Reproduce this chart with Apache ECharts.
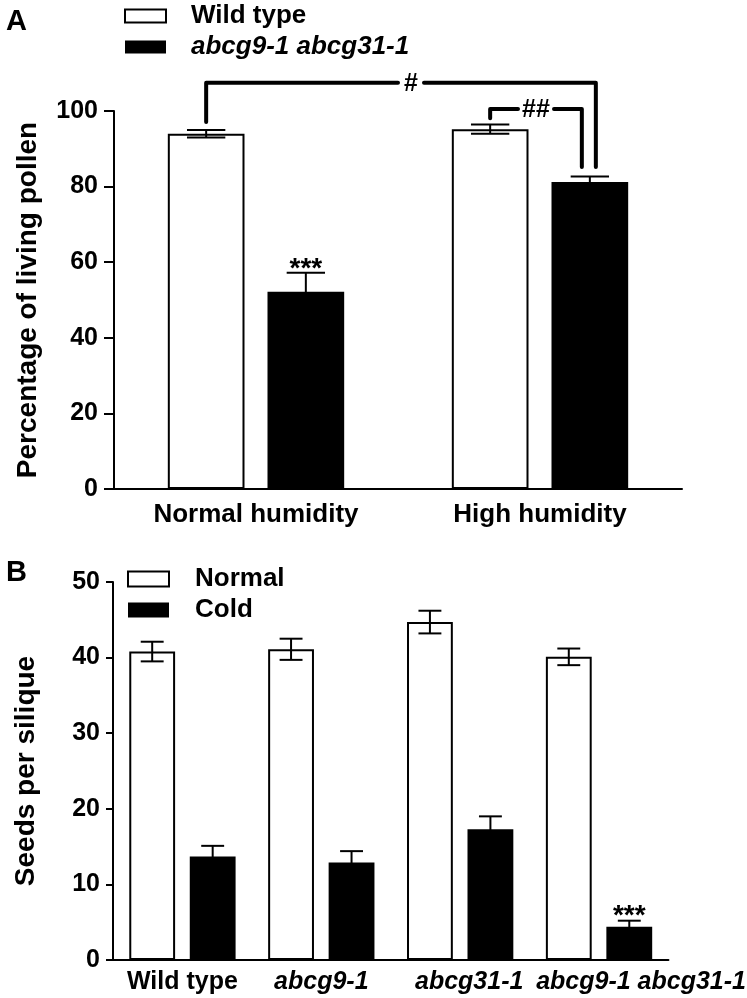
<!DOCTYPE html>
<html>
<head>
<meta charset="utf-8">
<script src="https://cdn.jsdelivr.net/npm/echarts@6/dist/echarts.min.js"></script>
<style>
html,body{margin:0;padding:0;background:#fff;}
#chart{width:747px;height:998px;}
</style>
</head>
<body>
<div id="chart"></div>
<script>
// ---------- Panel A data ----------
var catsA = ['Normal humidity', 'High humidity'];
var wildA = [94.0, 95.2];
var wildErrA = [1.0, 1.2];
var mutA = [52.2, 81.2];
var mutErrA = [5.0, 1.5];
var mutSigA = ['***', ''];
var yTicksA = [0, 20, 40, 60, 80, 100];

// ---------- Panel B data ----------
var catsB = ['Wild type', 'abcg9-1', 'abcg31-1', 'abcg9-1 abcg31-1'];
var normalB = [40.8, 41.1, 44.7, 40.1];
var normalErrB = [1.3, 1.4, 1.5, 1.1];
var coldB = [13.7, 12.9, 17.3, 4.4];
var coldErrB = [1.4, 1.5, 1.7, 0.8];
var coldSigB = ['', '', '', '***'];
var yTicksB = [0, 10, 20, 30, 40, 50];

var FONT = '"Liberation Sans", Arial, sans-serif';
var chart = echarts.init(document.getElementById('chart'), null, {renderer: 'canvas'});

var BAR_A = 0.27, GAP_A = 0.30;
var BAR_B = 0.33, GAP_B = 0.32;

function errData(vals, errs) {
  return vals.map(function (v, i) { return [i, v, errs[i]]; });
}

function errRender(sign, barPct, gapPct, sigs, starSize) {
  return function (params, api) {
    var ci = api.value(0), v = api.value(1), e = api.value(2);
    var band = api.size([1, 0])[0];
    var bw = band * barPct;
    var off = sign * bw * (1 + gapPct) / 2;
    var x = api.coord([ci, v])[0] + off;
    var yt = api.coord([ci, v + e])[1];
    var yb = api.coord([ci, v - e])[1];
    var cw = bw * 0.25;
    var st = {stroke: '#000', lineWidth: 2};
    var ch = [
      {type: 'line', shape: {x1: x, y1: yt, x2: x, y2: yb}, style: st},
      {type: 'line', shape: {x1: x - cw, y1: yt, x2: x + cw, y2: yt}, style: st},
      {type: 'line', shape: {x1: x - cw, y1: yb, x2: x + cw, y2: yb}, style: st}
    ];
    var s = sigs ? sigs[params.dataIndex] : '';
    if (s) {
      ch.push({type: 'text', style: {text: s, x: x, y: yt + 10, align: 'center', verticalAlign: 'bottom',
        font: 'bold ' + starSize + 'px ' + FONT, fill: '#000'}});
    }
    return {type: 'group', children: ch};
  };
}

// significance brackets in panel A: [fromCat, fromSide(-1 wt / +1 mut), leftDropTo, toCat, toSide, rightDropTo, topValue, label, rightNudgePx]
var brackets = [
  [0, -1, 97.1, 1, 1, 85.2, 107.5, '#', 6],
  [1, -1, 98.1, 1, 1, 85.2, 100.5, '##', -8]
];

function bracketRender(params, api) {
  var b = brackets[params.dataIndex];
  var band = api.size([1, 0])[0];
  var bw = band * BAR_A;
  var off = bw * (1 + GAP_A) / 2;
  var xl = api.coord([b[0], 0])[0] + b[1] * off;
  var xr = api.coord([b[3], 0])[0] + b[4] * off + b[8];
  var yl = api.coord([b[0], b[2]])[1];
  var yr = api.coord([b[3], b[5]])[1];
  var yt = api.coord([b[0], b[6]])[1];
  var xm = (xl + xr) / 2 + (b[7] === '#' ? 10 : 0);
  var half = b[7] === '#' ? 13 : 18;
  var st = {stroke: '#000', lineWidth: 4, lineCap: 'round', lineJoin: 'round', fill: null};
  return {type: 'group', children: [
    {type: 'polyline', shape: {points: [[xl, yl], [xl, yt], [xm - half, yt]]}, style: st},
    {type: 'polyline', shape: {points: [[xm + half, yt], [xr, yt], [xr, yr]]}, style: st},
    {type: 'text', style: {text: b[7], x: xm, y: yt + 1, align: 'center', verticalAlign: 'middle',
      font: 'bold 25px ' + FONT, fill: '#000'}}
  ]};
}

var axisLineStyle = {color: '#000', width: 2};

var option = {
  backgroundColor: '#fff',
  animation: false,
  title: [
    {text: 'A', left: 1, top: 2, textStyle: {fontFamily: FONT, fontWeight: 'bold', fontSize: 29, color: '#000'}},
    {text: 'B', left: 1, top: 553, textStyle: {fontFamily: FONT, fontWeight: 'bold', fontSize: 29, color: '#000'}}
  ],
  legend: [
    {
      orient: 'vertical', left: 119, top: -2, itemWidth: 41, itemHeight: 13, itemGap: 5,
      selectedMode: false,
      data: [
        {name: 'Wild type', icon: 'rect', itemStyle: {color: '#fff', borderColor: '#000', borderWidth: 2}},
        {name: 'abcg9-1 abcg31-1', icon: 'rect', itemStyle: {color: '#000', borderColor: '#000', borderWidth: 0}}
      ],
      formatter: function (n) { return n === 'Wild type' ? '{n|' + n + '}' : '{i|' + n + '}'; },
      textStyle: {
        padding: [0, 0, 0, 20],
        rich: {
          n: {fontFamily: FONT, fontWeight: 'bold', fontSize: 26, color: '#000'},
          i: {fontFamily: FONT, fontWeight: 'bold', fontStyle: 'italic', fontSize: 26, color: '#000'}
        }
      }
    },
    {
      orient: 'vertical', left: 122, top: 561, itemWidth: 41, itemHeight: 15, itemGap: 5,
      selectedMode: false,
      data: [
        {name: 'Normal', icon: 'rect', itemStyle: {color: '#fff', borderColor: '#000', borderWidth: 2}},
        {name: 'Cold', icon: 'rect', itemStyle: {color: '#000', borderColor: '#000', borderWidth: 0}}
      ],
      textStyle: {padding: [0, 0, 0, 21], fontFamily: FONT, fontWeight: 'bold', fontSize: 26, color: '#000'}
    }
  ],
  grid: [
    {left: 114, right: 65, top: 111, bottom: 509},
    {left: 113, right: 63, top: 582, bottom: 38}
  ],
  xAxis: [
    {
      type: 'category', gridIndex: 0, data: catsA,
      axisLine: {lineStyle: axisLineStyle}, axisTick: {show: false},
      axisLabel: {margin: 13, color: '#000', fontFamily: FONT, fontWeight: 'bold', fontSize: 26}
    },
    {
      type: 'category', gridIndex: 1, data: catsB,
      axisLine: {lineStyle: axisLineStyle}, axisTick: {show: false},
      axisLabel: {
        margin: 10, interval: 0,
        formatter: function (v, i) { return '{c' + i + '|' + v + '}'; },
        rich: {
          c0: {fontFamily: FONT, fontWeight: 'bold', fontSize: 25, color: '#000'},
          c1: {fontFamily: FONT, fontWeight: 'bold', fontStyle: 'italic', fontSize: 25, color: '#000'},
          c2: {fontFamily: FONT, fontWeight: 'bold', fontStyle: 'italic', fontSize: 25, color: '#000', padding: [0, 0, 0, 18]},
          c3: {fontFamily: FONT, fontWeight: 'bold', fontStyle: 'italic', fontSize: 25, color: '#000', padding: [0, 0, 0, 84]}
        }
      }
    }
  ],
  yAxis: [
    {
      type: 'value', gridIndex: 0, min: yTicksA[0], max: yTicksA[yTicksA.length - 1], interval: 20,
      name: 'Percentage of living pollen', nameLocation: 'middle', nameGap: 72, nameRotate: 90,
      nameTextStyle: {fontFamily: FONT, fontWeight: 'bold', fontSize: 28, color: '#000'},
      axisLine: {show: true, lineStyle: axisLineStyle},
      axisTick: {show: true, length: 10, lineStyle: axisLineStyle},
      splitLine: {show: false},
      axisLabel: {margin: 16, color: '#000', fontFamily: FONT, fontWeight: 'bold', fontSize: 25}
    },
    {
      type: 'value', gridIndex: 1, min: yTicksB[0], max: yTicksB[yTicksB.length - 1], interval: 10,
      name: 'Seeds per silique', nameLocation: 'middle', nameGap: 73, nameRotate: 90,
      nameTextStyle: {fontFamily: FONT, fontWeight: 'bold', fontSize: 28, color: '#000'},
      axisLine: {show: true, lineStyle: axisLineStyle},
      axisTick: {show: true, length: 7, lineStyle: axisLineStyle},
      splitLine: {show: false},
      axisLabel: {margin: 13, color: '#000', fontFamily: FONT, fontWeight: 'bold', fontSize: 25}
    }
  ],
  series: [
    {name: 'Wild type', type: 'bar', xAxisIndex: 0, yAxisIndex: 0, data: wildA,
      barWidth: (BAR_A * 100) + '%', barGap: (GAP_A * 100) + '%',
      itemStyle: {color: '#fff', borderColor: '#000', borderWidth: 2}},
    {name: 'abcg9-1 abcg31-1', type: 'bar', xAxisIndex: 0, yAxisIndex: 0, data: mutA,
      barWidth: (BAR_A * 100) + '%', barGap: (GAP_A * 100) + '%',
      itemStyle: {color: '#000', borderColor: '#000', borderWidth: 0}},
    {type: 'custom', xAxisIndex: 0, yAxisIndex: 0, z: 5, clip: false, data: errData(wildA, wildErrA),
      renderItem: errRender(-1, BAR_A, GAP_A, null, 28)},
    {type: 'custom', xAxisIndex: 0, yAxisIndex: 0, z: 5, clip: false, data: errData(mutA, mutErrA),
      renderItem: errRender(1, BAR_A, GAP_A, mutSigA, 28)},
    {type: 'custom', xAxisIndex: 0, yAxisIndex: 0, z: 6, clip: false, data: brackets.map(function (b, i) { return [i, b[6]]; }),
      renderItem: bracketRender},

    {name: 'Normal', type: 'bar', xAxisIndex: 1, yAxisIndex: 1, data: normalB,
      barWidth: (BAR_B * 100) + '%', barGap: (GAP_B * 100) + '%',
      itemStyle: {color: '#fff', borderColor: '#000', borderWidth: 2}},
    {name: 'Cold', type: 'bar', xAxisIndex: 1, yAxisIndex: 1, data: coldB,
      barWidth: (BAR_B * 100) + '%', barGap: (GAP_B * 100) + '%',
      itemStyle: {color: '#000', borderColor: '#000', borderWidth: 0}},
    {type: 'custom', xAxisIndex: 1, yAxisIndex: 1, z: 5, clip: false, data: errData(normalB, normalErrB),
      renderItem: errRender(-1, BAR_B, GAP_B, null, 28)},
    {type: 'custom', xAxisIndex: 1, yAxisIndex: 1, z: 5, clip: false, data: errData(coldB, coldErrB),
      renderItem: errRender(1, BAR_B, GAP_B, coldSigB, 28)}
  ]
};
chart.setOption(option);
</script>
</body>
</html>
